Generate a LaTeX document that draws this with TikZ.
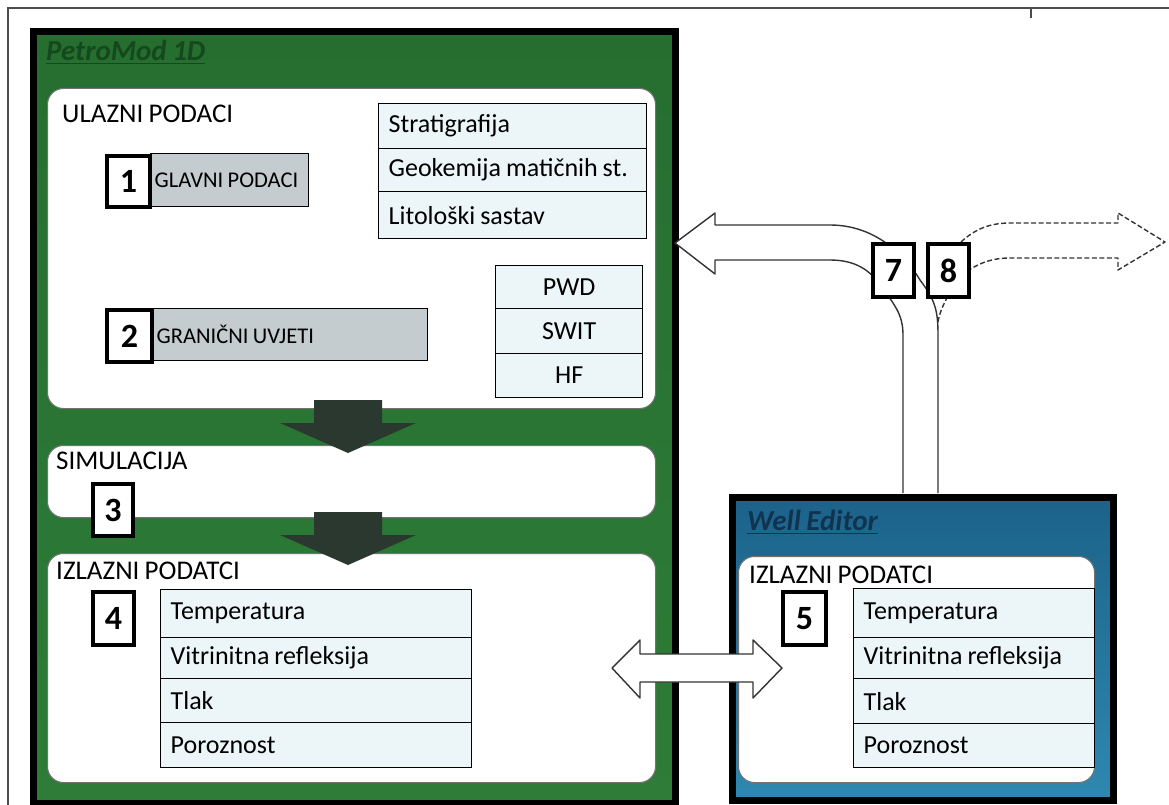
\documentclass[tikz,border=0pt]{standalone}
\usepackage{fontspec}
\setmainfont{Carlito}[WordSpace=0.85]
\definecolor{pgreen}{RGB}{46,124,56}
\definecolor{pgreentop}{RGB}{38,110,48}
\definecolor{wtop}{RGB}{28,98,138}
\definecolor{wbot}{RGB}{46,136,176}
\definecolor{greyfill}{RGB}{196,204,207}
\definecolor{cellfill}{RGB}{236,245,248}
\definecolor{darrow}{RGB}{42,56,48}
\definecolor{pmtitle}{RGB}{22,72,30}
\definecolor{wetitle}{RGB}{16,52,80}
\begin{document}
\begin{tikzpicture}[x=1pt,y=-1pt,
  panel/.style={draw=black, line width=7pt, anchor=north west, inner sep=0pt},
  wbox/.style={draw=black!55, fill=white, rounded corners=16pt, line width=1pt, anchor=north west, inner sep=0pt},
  numbox/.style={draw=black, fill=white, line width=4pt, anchor=north west, inner sep=0pt, font=\bfseries\fontsize{34}{34}\selectfont},
  greybox/.style={draw=black, fill=greyfill, line width=1.3pt, anchor=north west, inner xsep=4pt, inner ysep=0pt, align=flush left, font=\fontsize{22.5}{22.5}\selectfont},
  cell/.style={draw=black, fill=cellfill, line width=1.3pt, anchor=north west, inner xsep=10pt, inner ysep=0pt, align=flush left, font=\fontsize{26}{26}\selectfont},
  cellc/.style={cell, align=flush center},
  heading/.style={anchor=west, inner sep=0pt, font=\fontsize{27}{27}\selectfont},
  paneltitle/.style={anchor=west, inner sep=0pt, font=\bfseries\itshape\fontsize{29}{29}\selectfont},
  downarrow/.style={fill=darrow},
  blockarrow/.style={fill=white, draw=black!80, line width=1.4pt, line join=round},
  dasharrow/.style={draw=black!80, line width=1.4pt, dash pattern=on 5pt off 2.5pt, line join=round}
]
\useasboundingbox (0,0) rectangle (1169,805);
% outer frame
\draw[black!70, line width=1.5pt] (8,805) -- (8,8) -- (1169,8);
\draw[black!70, line width=1.5pt] (1031,8) -- (1031,18);

% PetroMod panel
\node[panel, top color=pgreentop, bottom color=pgreen, minimum width=642pt, minimum height=771pt] (petro) at (29.5,28.5) {};
\node[paneltitle, text=pmtitle] (pmt) at (46,50) {PetroMod 1D};
\draw[pmtitle, line width=1.5pt] ([yshift=-3pt]pmt.south west) -- ([yshift=-3pt]pmt.south east);

\node[wbox, minimum width=608pt, minimum height=320pt] (ulaz) at (47,88) {};
\node[wbox, minimum width=608pt, minimum height=72pt] (sim) at (47,445) {};
\node[wbox, minimum width=608pt, minimum height=229pt] (izl) at (47,553) {};

\node[heading] (tu) at (62,114) {ULAZNI PODACI};
\node[heading] (ts) at (56,461) {SIMULACIJA};
\node[heading] (ti) at (56,571) {IZLAZNI PODATCI};

% input data
\node[greybox, text width=150pt, minimum height=53pt] (g1) at (150,153) {GLAVNI PODACI};
\node[numbox, minimum width=43pt, minimum height=51pt] (n1) at (105,154) {1};
\node[greybox, text width=267pt, minimum height=52pt] (g2) at (152,308) {GRANIČNI UVJETI};
\node[numbox, minimum width=45pt, minimum height=52pt] (n2) at (105,308) {2};

\node[cell, text width=248pt, minimum height=45pt] (s1) at (378,103) {Stratigrafija};
\node[cell, text width=248pt, minimum height=43pt] (s2) at (378,148) {Geokemija matičnih st.};
\node[cell, text width=248pt, minimum height=47pt] (s3) at (378,191) {Litološki sastav};

\node[cellc, text width=127pt, minimum height=43pt] (p1) at (495,265) {PWD};
\node[cellc, text width=127pt, minimum height=45pt] (p2) at (495,308) {SWIT};
\node[cellc, text width=127pt, minimum height=44pt] (p3) at (495,353) {HF};

% simulation
\node[numbox, minimum width=40pt, minimum height=52pt] (n3) at (91,482) {3};

% output data (PetroMod)
\node[numbox, minimum width=41pt, minimum height=53pt] (n4) at (91,590) {4};
\node[cell, text width=291pt, minimum height=48pt] (t1) at (160,589) {Temperatura};
\node[cell, text width=291pt, minimum height=41pt] (t2) at (160,637) {Vitrinitna refleksija};
\node[cell, text width=291pt, minimum height=44pt] (t3) at (160,678) {Tlak};
\node[cell, text width=291pt, minimum height=45pt] (t4) at (160,722) {Poroznost};

% down arrows
\coordinate (a1) at (348,400);
\coordinate (a2) at (348,512);
\foreach \c in {a1,a2}{
  \fill[downarrow] (\c) ++(-34,0) -- ++(68,0) -- ++(0,23) -- ++(34,0) -- ++(-68,30) -- ++(-68,-30) -- ++(34,0) -- cycle;
}

% Well Editor panel
\node[panel, top color=wtop, bottom color=wbot, minimum width=381pt, minimum height=303pt] (well) at (728.5,493.5) {};
\node[paneltitle, text=wetitle] (wet) at (747,520) {Well Editor};
\draw[wetitle, line width=1.5pt] ([yshift=-3pt]wet.south west) -- ([yshift=-3pt]wet.south east);
\node[wbox, minimum width=356pt, minimum height=226pt] (wizl) at (738,556) {};
\node[heading] (tw) at (749,575) {IZLAZNI PODATCI};
\node[numbox, minimum width=43pt, minimum height=53pt] (n5) at (781,590) {5};
\node[cell, text width=221pt, minimum height=49pt] (w1) at (853,588) {Temperatura};
\node[cell, text width=221pt, minimum height=41pt] (w2) at (853,637) {Vitrinitna refleksija};
\node[cell, text width=221pt, minimum height=45pt] (w3) at (853,678) {Tlak};
\node[cell, text width=221pt, minimum height=44pt] (w4) at (853,723) {Poroznost};

% double arrow between output tables
\coordinate (dl) at (612,668);
\draw[blockarrow] (dl) -- ++(28,-28) -- ++(0,14) -- ++(113,0) -- ++(0,-14) -- ++(29,28) -- ++(-29,30) -- ++(0,-16) -- ++(-113,0) -- ++(0,16) -- cycle;

% bent arrow 7 (Well Editor -> PetroMod)
\coordinate (b7r) at (938,493);
\coordinate (b7l) at (903,493);
\coordinate (tip7) at (675,243);
\draw[blockarrow] (b7r) -- (938,335) .. controls (938,310) and (935,300) .. (920,280)
  .. controls (905,255) and (875,225) .. (830,225) -- (715,225) -- (715,213) -- (tip7)
  -- (715,274) -- (715,260) -- (830,260) .. controls (855,260) and (870,270) .. (880,285)
  .. controls (895,305) and (903,315) .. (903,335) -- (b7l);

% dashed arrow 8
\coordinate (tip8) at (1165,242);
\draw[dasharrow] (938,322) .. controls (940,310) and (945,302) .. (948,296);
\draw[dasharrow] (961,242) .. controls (975,229) and (990,223) .. (1010,223) -- (1118,223) -- (1118,213) -- (tip8)
  -- (1118,270) -- (1118,258) -- (1010,258) .. controls (992,258) and (980,263) .. (969,270);

\node[numbox, minimum width=41pt, minimum height=53pt] (n7) at (871,242) {7};
\node[numbox, minimum width=41pt, minimum height=53pt] (n8) at (926,242) {8};
\end{tikzpicture}
\end{document}
